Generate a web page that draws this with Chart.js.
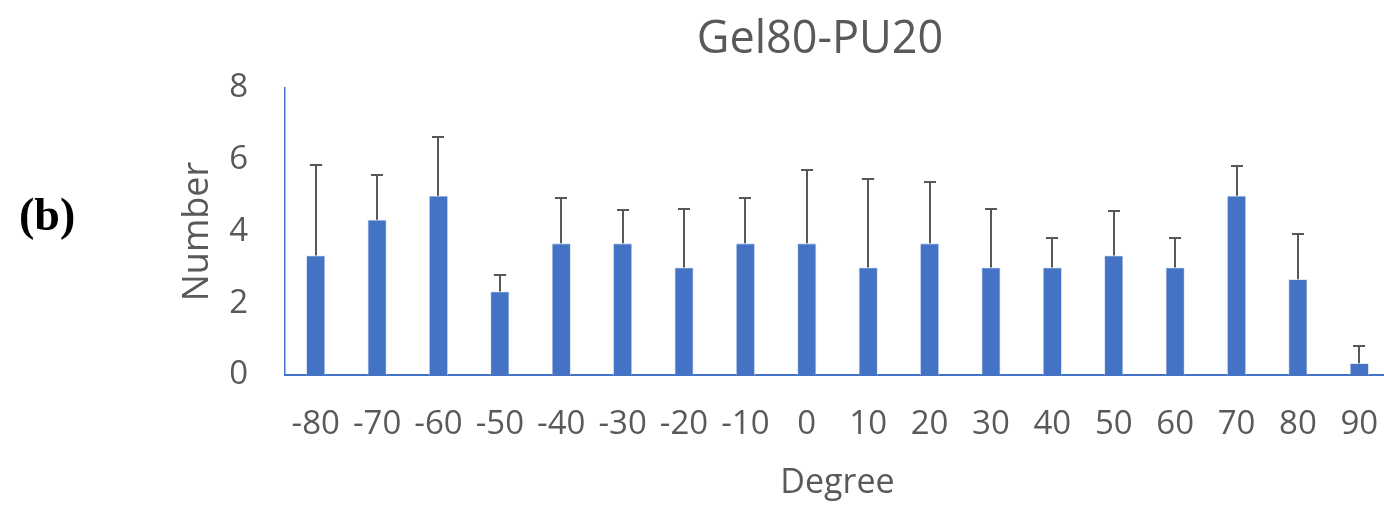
<!DOCTYPE html>
<html>
<head>
<meta charset="utf-8">
<title>Gel80-PU20</title>
<script src="https://cdn.jsdelivr.net/npm/chart.js@4/dist/chart.umd.min.js"></script>
<style>
  html, body { margin: 0; padding: 0; background: #ffffff; overflow: hidden; }
  #wrap { width: 1420px; height: 509px; }
</style>
</head>
<body>
<div id="wrap"><canvas id="c" width="1420" height="509"></canvas></div>
<script>
// Fibre orientation histogram: mean count per angle bin with standard deviation
const degrees = ['-80','-70','-60','-50','-40','-30','-20','-10','0','10','20','30','40','50','60','70','80','90'];
const counts = [3.33, 4.33, 5.00, 2.33, 3.67, 3.67, 3.00, 3.67, 3.67, 3.00, 3.67, 3.00, 3.00, 3.33, 3.00, 5.00, 2.67, 0.33];
const errors = [2.52, 1.25, 1.63, 0.47, 1.25, 0.94, 1.63, 1.25, 2.05, 2.45, 1.70, 1.63, 0.82, 1.25, 0.82, 0.82, 1.25, 0.47];
const yTicks = [0, 2, 4, 6, 8];
const chartTitle = 'Gel80-PU20';

const textGrey = '#595959';
const barBlue = '#4472C4';
const uiFont = '"Open Sans", "Liberation Sans", sans-serif';

// Upper error whiskers with a flat cap
const errorBars = {
  id: 'errorBars',
  afterDatasetsDraw(chart) {
    const ctx = chart.ctx;
    const meta = chart.getDatasetMeta(0);
    const y = chart.scales.y;
    ctx.save();
    ctx.strokeStyle = '#575757';
    ctx.lineWidth = 2;
    ctx.lineCap = 'butt';
    meta.data.forEach((bar, i) => {
      const x = Math.round(bar.x);
      const yTop = Math.round(y.getPixelForValue(counts[i] + errors[i]));
      const yBase = y.getPixelForValue(counts[i]);
      ctx.beginPath();
      ctx.moveTo(x, yBase);
      ctx.lineTo(x, yTop);
      ctx.moveTo(x - 6, yTop);
      ctx.lineTo(x + 6, yTop);
      ctx.stroke();
    });
    ctx.restore();
  }
};

// Chart heading and panel letter
const headings = {
  id: 'headings',
  afterDraw(chart) {
    const ctx = chart.ctx;
    ctx.save();
    ctx.textBaseline = 'alphabetic';
    ctx.fillStyle = textGrey;
    ctx.font = '45px ' + uiFont;
    ctx.textAlign = 'center';
    ctx.fillText(chartTitle, 820, 53);
    ctx.fillStyle = '#000000';
    ctx.font = 'bold 46px "Liberation Serif", "Times New Roman", serif';
    ctx.textAlign = 'left';
    ctx.fillText('(b)', 19, 230);
    ctx.restore();
  }
};

new Chart(document.getElementById('c'), {
  type: 'bar',
  data: {
    labels: degrees,
    datasets: [{
      data: counts,
      backgroundColor: barBlue,
      borderColor: '#c9d6ef',
      borderWidth: 0.8,
      categoryPercentage: 1.0,
      barPercentage: 0.31
    }]
  },
  options: {
    responsive: false,
    animation: false,
    devicePixelRatio: 1,
    layout: { padding: { left: 170, right: 30, top: 88, bottom: 0 } },
    plugins: {
      legend: { display: false },
      tooltip: { enabled: false },
      title: { display: false }
    },
    scales: {
      x: {
        grid: { display: false, drawTicks: false, tickLength: 0 },
        border: { display: true, color: barBlue, width: 2 },
        ticks: {
          color: textGrey,
          font: { family: uiFont, size: 33 },
          padding: 30,
          maxRotation: 0,
          autoSkip: false
        },
        title: {
          display: true,
          text: 'Degree',
          color: textGrey,
          font: { family: uiFont, size: 34 },
          padding: { top: 0, bottom: 5 }
        },
        afterFit(scale) { scale.height = 134; }
      },
      y: {
        min: 0,
        max: 8,
        afterBuildTicks(scale) { scale.ticks = yTicks.map(v => ({ value: v })); },
        grid: { display: false, drawTicks: false, tickLength: 0 },
        border: { display: true, color: barBlue, width: 1.5 },
        ticks: {
          color: textGrey,
          font: { family: uiFont, size: 33 },
          padding: 37
        },
        title: {
          display: true,
          text: 'Number',
          color: textGrey,
          font: { family: uiFont, size: 36 },
          padding: { top: 6, bottom: 0 }
        },
        afterFit(scale) { scale.width = 115; }
      }
    }
  },
  plugins: [errorBars, headings]
});
</script>
</body>
</html>
